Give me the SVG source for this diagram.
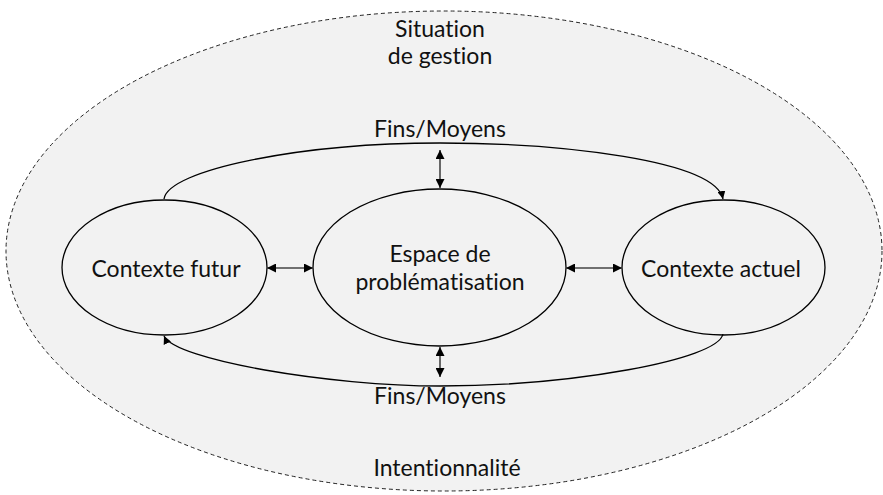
<svg xmlns="http://www.w3.org/2000/svg" width="883" height="495" viewBox="0 0 883 495">
  <defs>
    <style>
      text { font-family: Lato, "Liberation Sans", Arial, sans-serif; font-size: 23px; fill: #111; text-anchor: middle; font-variant-ligatures: none; }
      .node { fill: #f2f2f2; stroke: #000; stroke-width: 1.3; }
      .conn { fill: none; stroke: #000; stroke-width: 1.3; }
      .dbl { fill: none; stroke: #444; stroke-width: 1.6; }
    </style>
    <marker id="ah" viewBox="0 0 10 10" refX="10" refY="5" markerWidth="8" markerHeight="8" markerUnits="userSpaceOnUse" orient="auto">
      <path d="M0,0 L10,5 L0,10 z" fill="#000"/>
    </marker>
    <marker id="ah2" viewBox="0 0 10 10" refX="10" refY="5" markerWidth="9" markerHeight="9" markerUnits="userSpaceOnUse" orient="auto-start-reverse">
      <path d="M0,0 L10,5 L0,10 z" fill="#000"/>
    </marker>
  </defs>

  <g id="situation">
    <ellipse cx="444" cy="251" rx="438" ry="240" fill="#f2f2f2" stroke="#222" stroke-width="1" stroke-dasharray="4,3"/>
    <text x="440" y="37">Situation</text>
    <text x="440" y="64">de gestion</text>
    <text x="447" y="476">Intentionnalité</text>
  </g>

  <g id="contexte-futur">
    <ellipse class="node" cx="164.5" cy="267.5" rx="102.5" ry="67.5"/>
    <text x="166" y="277">Contexte futur</text>
  </g>

  <g id="espace">
    <ellipse class="node" cx="439.5" cy="267.5" rx="126.5" ry="78.5"/>
    <text x="440" y="262">Espace de</text>
    <text x="440" y="290">problématisation</text>
  </g>

  <g id="contexte-actuel">
    <ellipse class="node" cx="723.5" cy="267.5" rx="101.5" ry="67.5"/>
    <text x="721" y="277">Contexte actuel</text>
  </g>

  <g id="connectors">
    <path class="conn" d="M164,199 C168,170 300,143 440,143 C560,143 715,160 723,199" marker-end="url(#ah)"/>
    <path class="conn" d="M723,334 C718,360 570,386 440,386 C330,386 175,360 164,336" marker-end="url(#ah)"/>
    <line class="dbl" x1="440" y1="150" x2="440" y2="188" marker-start="url(#ah2)" marker-end="url(#ah2)"/>
    <line class="dbl" x1="440" y1="347" x2="440" y2="377" marker-start="url(#ah2)" marker-end="url(#ah2)"/>
    <line class="dbl" x1="267" y1="268" x2="313" y2="268" marker-start="url(#ah2)" marker-end="url(#ah2)"/>
    <line class="dbl" x1="566" y1="268" x2="622" y2="268" marker-start="url(#ah2)" marker-end="url(#ah2)"/>
    <text x="440" y="137">Fins/Moyens</text>
    <text x="440" y="404">Fins/Moyens</text>
  </g>
</svg>
